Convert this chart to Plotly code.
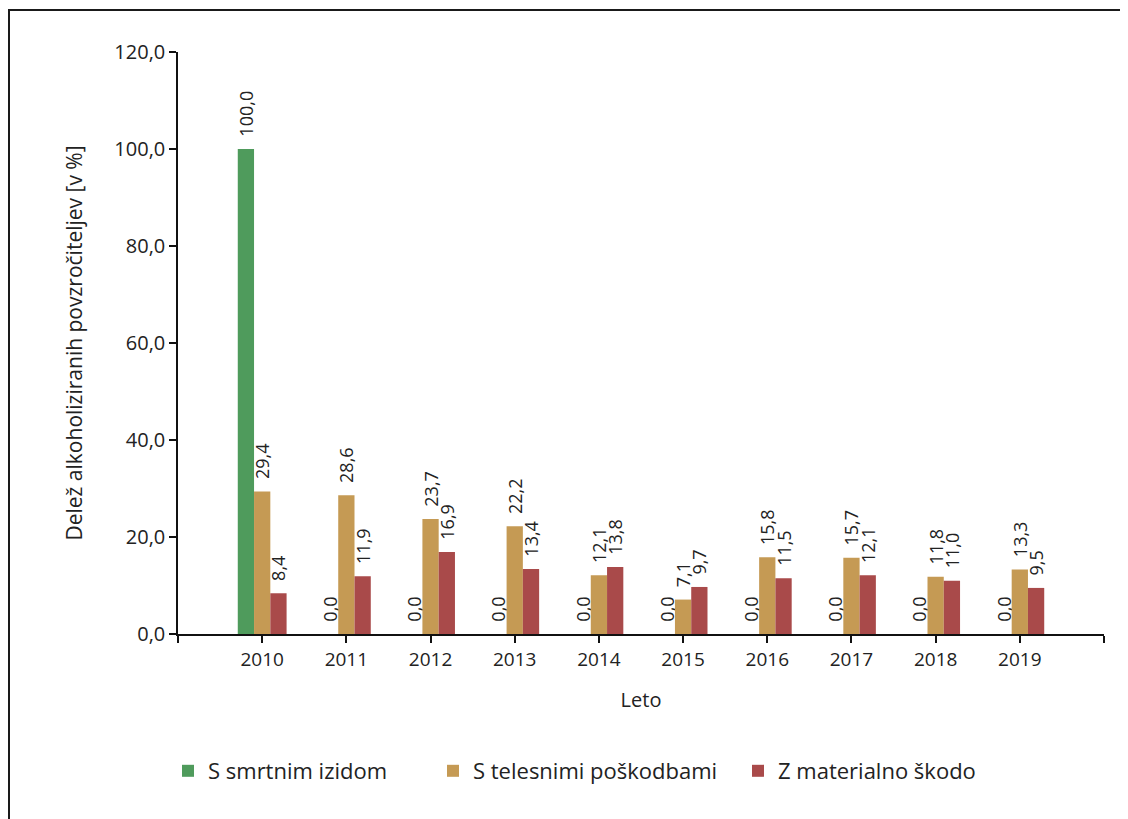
import plotly.graph_objects as go

years = ["2010", "2011", "2012", "2013", "2014", "2015", "2016", "2017", "2018", "2019"]
smrtni = [100.0, 0.0, 0.0, 0.0, 0.0, 0.0, 0.0, 0.0, 0.0, 0.0]
telesni = [29.4, 28.6, 23.7, 22.2, 12.1, 7.1, 15.8, 15.7, 11.8, 13.3]
materialni = [8.4, 11.9, 16.9, 13.4, 13.8, 9.7, 11.5, 12.1, 11.0, 9.5]
series_names = ["S smrtnim izidom", "S telesnimi poškodbami", "Z materialno škodo"]
colors = ["#4f9b5c", "#c59a54", "#a94a4a"]

xpos = list(range(len(years)))
FONT = "Open Sans"
legend_ids = ["legend", "legend2", "legend3"]

fig = go.Figure()
for name, vals, col, lid in zip(series_names, [smrtni, telesni, materialni], colors, legend_ids):
    fig.add_trace(go.Bar(
        x=xpos, y=vals, name=name, legend=lid,
        marker=dict(color=col, line=dict(width=0)),
        text=[("\u00a0\u00a0" + f"{v:.1f}".replace(".", ",")) for v in vals],
        textposition="outside", textangle=-90, constraintext="none",
        cliponaxis=False,
        textfont=dict(family=FONT, size=18, color="#222222"),
        hoverinfo="skip",
    ))

# page body has an 8px margin: screen px = figure px + 8
OFF = 8
W, H = 1128 - OFF, 819 - OFF
ml, mt = 178 - OFF, 52 - OFF
plot_right, plot_bottom = 1104 - OFF, 634 - OFF
mr, mb = W - plot_right, H - plot_bottom
pw, ph = W - ml - mr, H - mt - mb

def px_x(p):
    return (p - OFF - ml) / pw

def px_y(p):
    return (plot_bottom - (p - OFF)) / ph

fig.add_shape(type="rect", xref="paper", yref="paper",
              x0=px_x(9), x1=px_x(1140), y0=px_y(830), y1=px_y(10),
              line=dict(color="#1a1a1a", width=2), fillcolor="rgba(0,0,0,0)", layer="below")

legend_font = dict(family=FONT, size=22, color="#222222")
def leg(xp):
    return dict(orientation="h", x=px_x(xp), xanchor="left", y=px_y(771), yanchor="middle",
                font=legend_font, bgcolor="rgba(0,0,0,0)")

fig.update_layout(
    width=W, height=H,
    margin=dict(l=ml, r=mr, t=mt, b=mb, autoexpand=False),
    paper_bgcolor="white", plot_bgcolor="white",
    barmode="group", bargap=0.42, bargroupgap=0,
    separators=", ",
    font=dict(family=FONT, size=18, color="#222222"),
    showlegend=True,
    legend=leg(168), legend2=leg(433), legend3=leg(738),
    xaxis=dict(
        range=[-1, len(years)],
        tickvals=[-1] + xpos + [len(years)],
        ticktext=[""] + years + [""],
        showline=True, linecolor="#111111", linewidth=1.5,
        ticks="outside", ticklen=7, tickcolor="#111111", tickwidth=1.5,
        showgrid=False, zeroline=False,
        tickfont=dict(family=FONT, size=19, color="#222222"),
        title=dict(text="Leto", standoff=22, font=dict(family=FONT, size=20, color="#222222")),
    ),
    yaxis=dict(
        range=[0, 120], dtick=20, tick0=0, tickformat=".1f",
        showline=True, linecolor="#111111", linewidth=1.5,
        ticks="outside", ticklen=7, tickcolor="#111111", tickwidth=1.5,
        showgrid=False, zeroline=False,
        tickfont=dict(family=FONT, size=20, color="#222222"),
        title=dict(text="Delež alkoholiziranih povzročiteljev [v %]", standoff=26,
                   font=dict(family=FONT, size=21, color="#222222")),
    ),
)

fig.write_html("out.html")
